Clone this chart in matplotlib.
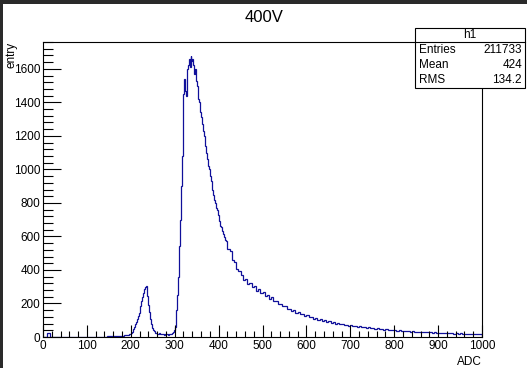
import numpy as np
import matplotlib
matplotlib.use("Agg")
import matplotlib.pyplot as plt
from matplotlib.ticker import MultipleLocator
from matplotlib.patches import Rectangle

plt.rcParams['font.family'] = ['Liberation Sans', 'DejaVu Sans']

# histogram counts
# 0-200 and 420-1000 in 5 ADC bins, the peaks (200-420) in 2 ADC bins
counts_low = [
    0, 0, 25, 0, 0, 0, 0, 0, 0, 0,            # 0-45
    0, 0, 0, 0, 0, 0, 0, 0, 0, 0,            # 50-95
    0, 0, 0, 0, 0, 0, 0, 0, 2, 3,            # 100-145
    3, 4, 5, 4, 6, 7, 8, 10, 12, 18,         # 150-195
]
counts_peak = [
    25, 32, 42, 50, 62, 78, 92, 108, 125, 142,          # 200-218
    160, 185, 215, 238, 262, 285, 298, 305, 290, 245,   # 220-238
    190, 150, 110, 80, 55, 42, 34, 28, 24, 22,          # 240-258
    20, 18, 21, 17, 16, 19, 15, 17, 14, 16,             # 260-278
    18, 15, 14, 17, 16, 18, 20, 24, 30, 40,             # 280-298
    58, 95, 160, 250, 360, 540, 700, 900, 1080, 1260,   # 300-318
    1450, 1540, 1470, 1440, 1600, 1625, 1660, 1610, 1675, 1645,  # 320-338
    1660, 1620, 1570, 1600, 1530, 1500, 1460, 1420, 1400, 1345,  # 340-358
    1310, 1270, 1230, 1200, 1160, 1140, 1095, 1060, 1020, 1000,  # 360-378
    960, 930, 900, 875, 845, 820, 800, 770, 755, 730,            # 380-398
    705, 695, 665, 655, 630, 615, 598, 580, 570, 548,            # 400-418
]
counts_tail = [
    528, 512, 462, 448, 405, 392,                      # 420-445
    372, 340, 345, 318, 322, 296, 302, 275, 288, 262,  # 450-495
    270, 246, 250, 228, 236, 212, 216, 198, 195, 182,  # 500-545
    186, 168, 170, 156, 160, 146, 148, 136, 140, 128,  # 550-595
    130, 118, 122, 110, 114, 103, 109, 98, 100, 92,    # 600-645
    94, 86, 89, 80, 84, 76, 79, 71, 73, 67,            # 650-695
    70, 64, 66, 61, 63, 57, 59, 55, 57, 52,            # 700-745
    53, 49, 51, 47, 48, 44, 46, 42, 43, 40,            # 750-795
    41, 38, 39, 35, 37, 34, 35, 32, 34, 31,            # 800-845
    32, 29, 31, 28, 29, 27, 28, 25, 27, 24,            # 850-895
    26, 23, 25, 22, 24, 21, 22, 20, 22, 19,            # 900-945
    21, 19, 20, 18, 19, 17, 19, 17, 18, 17,            # 950-995
]
counts = counts_low + counts_peak + counts_tail
edges = np.concatenate([np.arange(0, 200, 5), np.arange(200, 420, 2), np.arange(420, 1001, 5)])

title = "400V"
stats_name = "h1"
stats_rows = [("Entries", "211733"), ("Mean", "424"), ("RMS", "134.2")]

fig = plt.figure(figsize=(5.27, 3.68), dpi=100)
fig.patch.set_facecolor("white")

ax = fig.add_axes([43/527, 31/368, 439/527, 295/368])
ax.stairs(counts, edges, color="#10109a", lw=0.9)
ax.set_xlim(0, 1000)
ax.set_ylim(0, 1760)

ax.xaxis.set_major_locator(MultipleLocator(100))
ax.xaxis.set_minor_locator(MultipleLocator(20))
ax.yaxis.set_major_locator(MultipleLocator(200))
ax.yaxis.set_minor_locator(MultipleLocator(40))
ax.tick_params(which="both", direction="in", labelsize=8.5, pad=2, width=0.8)
ax.tick_params(axis="y", which="major", length=13)
ax.tick_params(axis="y", which="minor", length=7)
ax.tick_params(axis="x", which="major", length=9)
ax.tick_params(axis="x", which="minor", length=4.5)
for s in ax.spines.values():
    s.set_linewidth(0.8)

ax.set_xlabel("ADC", fontsize=8.5, loc="right", labelpad=3)
ax.set_ylabel("entry", fontsize=8.5, loc="top", labelpad=-3)

fig.text(264/527, 1 - 18/368, title, ha="center", va="center", fontsize=12)

# stats box
x0, x1 = 415/527, 525/527
y0, y1 = 1 - 88/368, 1 - 28/368
fig.patches.append(Rectangle((x0, y0), x1 - x0, y1 - y0, transform=fig.transFigure,
                             facecolor="white", edgecolor="black", lw=0.8, zorder=5))
fig.add_artist(plt.Line2D([x0, x1], [1 - 42/368] * 2, transform=fig.transFigure,
                          color="black", lw=0.8, zorder=6))
fig.text((x0 + x1) / 2, 1 - 35/368, stats_name, ha="center", va="center", fontsize=8.5, zorder=7)
for i, (k, v) in enumerate(stats_rows):
    yy = 1 - (50 + 15 * i)/368
    fig.text(x0 + 4/527, yy, k, ha="left", va="center", fontsize=8.5, zorder=7)
    fig.text(x1 - 3/527, yy, v, ha="right", va="center", fontsize=8.5, zorder=7)

# dark screenshot border on the left and top
fig.patches.append(Rectangle((0, 0), 3/527, 1, transform=fig.transFigure,
                             facecolor="#2a2a2a", edgecolor="none", zorder=10))
fig.patches.append(Rectangle((0, 1 - 4/368), 1, 4/368, transform=fig.transFigure,
                             facecolor="#2a2a2a", edgecolor="none", zorder=10))

fig.savefig("out.png", dpi=100)
